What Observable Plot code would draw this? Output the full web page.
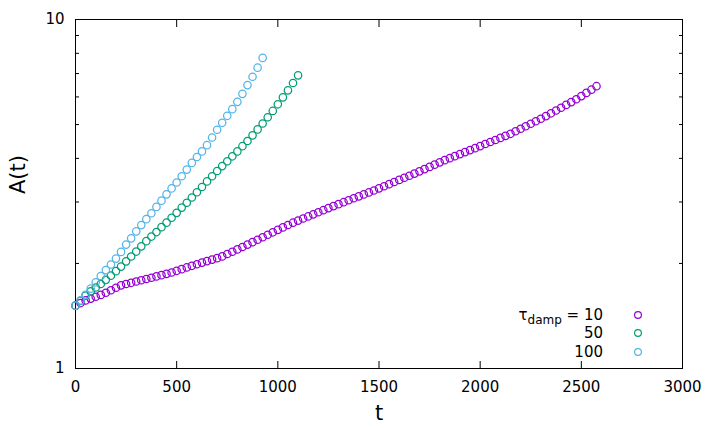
<!DOCTYPE html>
<html><head><meta charset="utf-8">
<script src="https://cdn.jsdelivr.net/npm/d3@7"></script>
<script src="https://cdn.jsdelivr.net/npm/@observablehq/plot@0.6"></script>
<style>body{margin:0;background:#fff} #chart{width:714px;height:428px}</style>
</head><body><div id="chart"></div>
<script>
const times = [0,25,50,75,100,125,150,175,200,225,250,275,300,325,350,375,400,425,450,475,
  500,525,550,575,600,625,650,675,700,725,750,775,800,825,850,875,900,925,950,975,
  1000,1025,1050,1075,1100,1125,1150,1175,1200,1225,1250,1275,1300,1325,1350,1375,1400,1425,1450,1475,
  1500,1525,1550,1575,1600,1625,1650,1675,1700,1725,1750,1775,1800,1825,1850,1875,1900,1925,1950,1975,
  2000,2025,2050,2075,2100,2125,2150,2175,2200,2225,2250,2275,2300,2325,2350,2375,2400,2425,2450,2475,
  2500,2525,2550,2575];
const tauLabels = ["10", "50", "100"];
const colors = ["#9400d3", "#009e73", "#56b4e9"];
const ampTau10 = [1.514,1.540,1.567,1.586,1.605,1.625,1.648,1.676,1.704,1.731,1.746,1.760,1.775,1.790,1.805,1.820,1.836,1.851,1.867,1.884,
  1.905,1.926,1.948,1.969,1.990,2.011,2.031,2.051,2.071,2.095,2.128,2.161,2.194,2.229,2.265,2.302,2.339,2.378,2.417,2.456,
  2.496,2.537,2.578,2.617,2.653,2.690,2.727,2.765,2.803,2.842,2.881,2.920,2.957,2.996,3.035,3.074,3.114,3.154,3.195,3.236,
  3.282,3.328,3.375,3.422,3.470,3.519,3.568,3.618,3.672,3.727,3.781,3.838,3.896,3.953,4.006,4.059,4.114,4.169,4.224,4.280,
  4.338,4.397,4.457,4.517,4.579,4.641,4.704,4.783,4.863,4.944,5.027,5.111,5.196,5.287,5.385,5.486,5.588,5.693,5.799,5.908,
  6.032,6.161,6.293,6.440];
const ampTau50 = [1.514,1.563,1.618,1.663,1.706,1.746,1.795,1.845,1.901,1.959,2.028,2.094,2.163,2.239,2.317,2.388,2.460,2.541,2.618,2.704,
  2.793,2.891,2.985,3.090,3.199,3.311,3.436,3.556,3.681,3.802,3.926,4.055,4.188,4.335,4.487,4.656,4.842,5.035,5.248,5.470,
  5.715,5.984,6.266,6.577,6.918];
const ampTau100 = [1.514,1.567,1.626,1.694,1.766,1.841,1.914,1.986,2.065,2.158,2.265,2.360,2.472,2.576,2.679,2.786,2.904,3.027,3.155,3.281,
  3.412,3.556,3.715,3.882,4.036,4.188,4.365,4.592,4.831,5.058,5.297,5.534,5.808,6.124,6.486,6.855,7.278,7.762];
const xTicks = [0, 500, 1000, 1500, 2000, 2500, 3000];
const yMajor = [1, 10];
const yMinor = [2, 3, 4, 5, 6, 7, 8, 9];

const series = [ampTau10, ampTau50, ampTau100];
const rows = series.flatMap((vals, s) => vals.map((a, i) => ({t: times[i], A: a, tau: tauLabels[s]})));

const plot = Plot.plot({
  width: 714, height: 428,
  marginLeft: 75, marginRight: 32, marginTop: 19, marginBottom: 60,
  style: {fontFamily: "DejaVu Sans", fontSize: "15px", background: "#fff", color: "#000"},
  x: {domain: [0, 3000]},
  y: {type: "log", domain: [1, 10]},
  color: {domain: tauLabels, range: colors},
  marks: [
    Plot.axisX(xTicks, {anchor: "bottom", tickSize: -7, text: null, label: null}),
    Plot.axisX(xTicks, {anchor: "top", tickSize: -7, text: null, label: null}),
    Plot.axisX(xTicks, {anchor: "bottom", tickSize: 0, tickPadding: 13, label: null, tickFormat: d => String(d), fontSize: 15}),
    Plot.axisY(yMajor, {anchor: "left", tickSize: -7, text: null, label: null}),
    Plot.axisY(yMajor, {anchor: "right", tickSize: -7, text: null, label: null}),
    Plot.axisY(yMinor, {anchor: "left", tickSize: -4, text: null, label: null}),
    Plot.axisY(yMinor, {anchor: "right", tickSize: -4, text: null, label: null}),
    Plot.axisY(yMajor, {anchor: "left", tickSize: 0, tickPadding: 11, label: null, tickFormat: d => String(d), fontSize: 15}),
    Plot.frame({stroke: "#000", strokeWidth: 1}),
    Plot.dot(rows, {x: "t", y: "A", stroke: "tau", r: 3.7, strokeWidth: 1.25, fill: "none"}),
    Plot.text(["t"], {frameAnchor: "bottom", dy: 51, fontSize: 21, text: d => d}),
    Plot.text(["A(t)"], {frameAnchor: "left", dx: -57, rotate: -90, fontSize: 21, text: d => d})
  ]
});
document.getElementById("chart").appendChild(plot);

// legend inside the frame, bottom-right
const xr = plot.scale("x").range, yr = plot.scale("y").range;
const right = Math.max(...xr), bottom = Math.max(...yr);
const legendOffsets = [53, 35, 16];
const lg = d3.select(plot).append("g").attr("font-family", "DejaVu Sans").attr("font-size", 15);
tauLabels.forEach((lab, i) => {
  const y = bottom - legendOffsets[i];
  const txt = lg.append("text").attr("x", right - 79).attr("y", y).attr("dy", "0.35em").attr("text-anchor", "end").attr("fill", "#000");
  if (i === 0) {
    txt.append("tspan").text("τ");
    txt.append("tspan").attr("font-size", 12).attr("dy", 4).text("damp");
    txt.append("tspan").attr("dy", -4).text(" = " + lab);
  } else {
    txt.text(lab);
  }
  lg.append("circle").attr("cx", right - 44).attr("cy", y).attr("r", 3.4)
    .attr("fill", "none").attr("stroke", colors[i]).attr("stroke-width", 1.2);
});
</script>
</body></html>
